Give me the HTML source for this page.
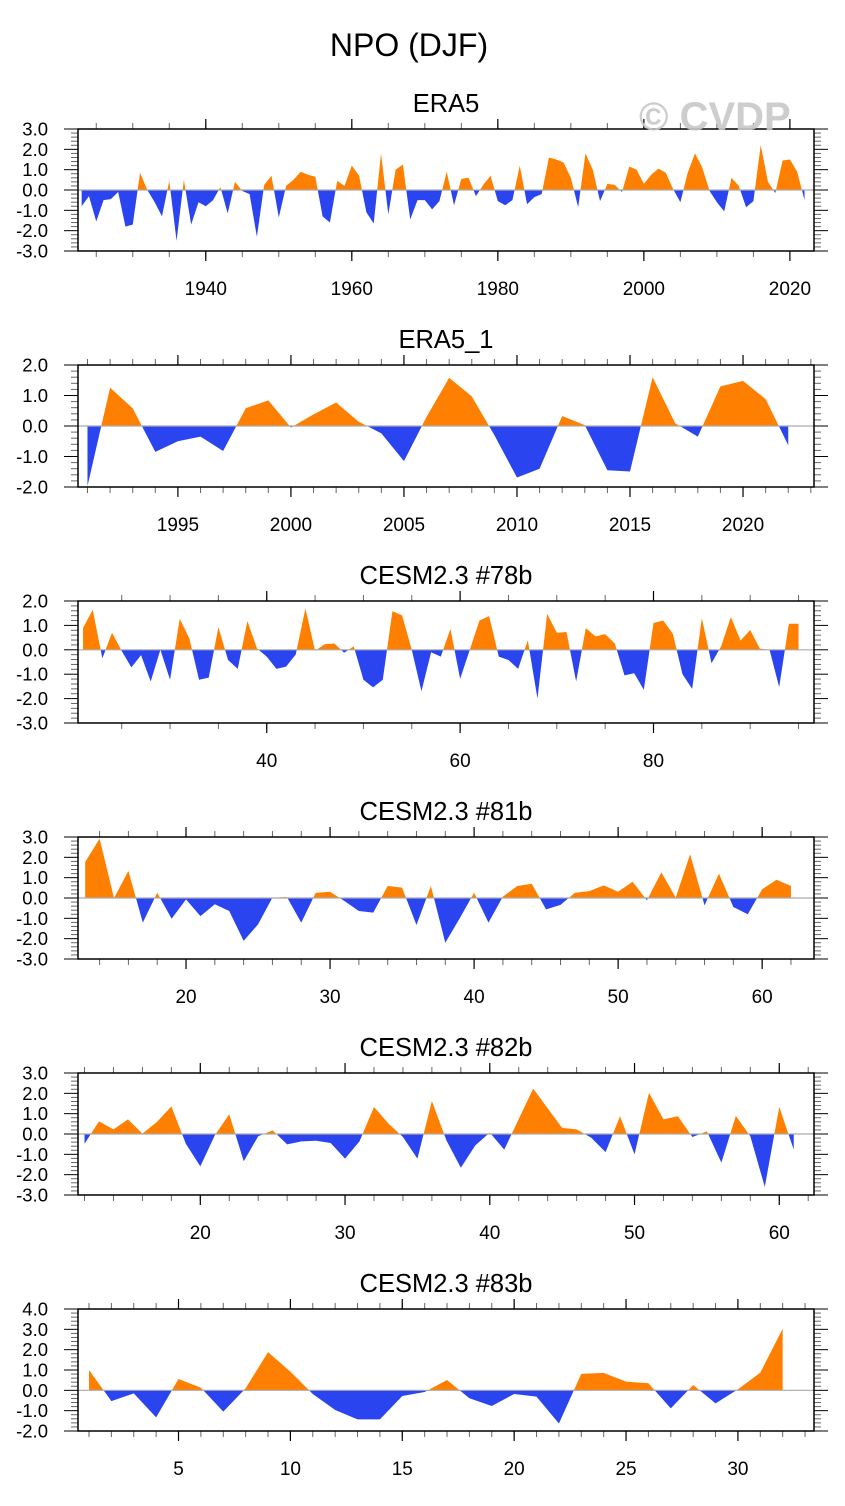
<!DOCTYPE html>
<html><head><meta charset="utf-8"><title>NPO (DJF)</title>
<style>
html,body{margin:0;padding:0;background:#fff;}
svg{display:block;font-family:"Liberation Sans",Arial,sans-serif;}
</style></head>
<body>
<svg id="chart" xmlns="http://www.w3.org/2000/svg" width="845" height="1506" viewBox="0 0 845 1506">
<rect x="0" y="0" width="845" height="1506" fill="#fff"/>
<text x="409" y="56" font-size="32" text-anchor="middle" fill="#000">NPO (DJF)</text>
</svg>
<script>
// ---- data ----
const era5Start = 1923;
const era5Values = [-0.8,-0.3,-1.55,-0.5,-0.45,-0.1,-1.8,-1.7,0.85,0,-0.6,-1.3,0.45,-2.5,0.5,-1.7,-0.6,-0.8,-0.5,0.15,-1.15,0.4,-0.05,-0.2,-2.3,0.25,0.7,-1.35,0.2,0.5,0.9,0.75,0.65,-1.3,-1.6,0.45,0.2,1.2,0.7,-1.1,-1.65,1.8,-1.2,1.0,1.25,-1.45,-0.5,-0.5,-0.95,-0.55,0.9,-0.75,0.55,0.6,-0.3,0.25,0.7,-0.55,-0.75,-0.5,1.2,-0.7,-0.35,-0.2,1.6,1.5,1.35,0.6,-0.85,1.8,1.0,-0.55,0.3,0.25,-0.1,1.15,1.0,0.3,0.75,1.05,0.85,0.05,-0.6,0.85,1.8,1.1,-0.05,-0.6,-1.05,0.6,0.2,-0.85,-0.55,2.2,0.4,-0.15,1.45,1.5,0.9,-0.5];
const era51Start = 1991;
const era51Values = [-1.97,1.26,0.58,-0.85,-0.5,-0.35,-0.82,0.58,0.84,-0.05,0.38,0.77,0.14,-0.24,-1.15,0.3,1.58,0.97,-0.3,-1.69,-1.4,0.33,0.03,-1.45,-1.49,1.6,0.09,-0.35,1.3,1.48,0.88,-0.63];
const m78Start = 21;
const m78Values = [0.89,1.64,-0.35,0.7,-0.05,-0.72,-0.22,-1.3,0,-1.23,1.27,0.46,-1.23,-1.14,0.93,-0.42,-0.78,1.18,0.05,-0.28,-0.78,-0.69,-0.19,1.7,-0.04,0.23,0.26,-0.12,0.14,-1.23,-1.54,-1.23,1.58,1.41,0,-1.7,-0.1,-0.28,0.86,-1.19,0,1.2,1.38,-0.28,-0.42,-0.78,0.39,-2.0,1.47,0.7,0.73,-1.3,0.89,0.55,0.64,0.26,-1.05,-0.96,-1.64,1.1,1.2,0.66,-1.0,-1.6,1.3,-0.55,0.15,1.34,0.38,0.81,0.05,0,-1.53,1.07,1.07];
const m81Start = 13;
const m81Values = [1.77,2.92,0,1.33,-1.21,0.26,-1.02,-0.07,-0.89,-0.31,-0.64,-2.11,-1.3,0.02,0.05,-1.21,0.25,0.31,-0.15,-0.64,-0.72,0.59,0.51,-1.33,0.59,-2.2,-1.0,0.26,-1.21,0.07,0.59,0.7,-0.56,-0.34,0.26,0.34,0.62,0.31,0.8,-0.11,1.26,0.02,2.15,-0.36,1.2,-0.44,-0.8,0.43,0.9,0.59];
const m82Start = 12;
const m82Values = [-0.48,0.62,0.23,0.72,0.02,0.59,1.36,-0.48,-1.59,-0.07,0.97,-1.34,-0.11,0.18,-0.51,-0.36,-0.33,-0.44,-1.21,-0.36,1.33,0.51,-0.15,-1.21,1.62,-0.31,-1.66,-0.56,0.07,-0.77,0.74,2.23,1.26,0.3,0.23,-0.18,-0.89,0.87,-1.0,2.03,0.72,0.87,-0.15,0.13,-1.41,0.89,-0.11,-2.6,1.33,-0.77];
const m83Start = 1;
const m83Values = [1.0,-0.53,-0.15,-1.33,0.56,0.13,-1.05,0.1,1.88,0.92,-0.18,-0.97,-1.43,-1.43,-0.28,-0.08,0.51,-0.39,-0.77,-0.18,-0.31,-1.63,0.81,0.86,0.43,0.35,-0.89,0.26,-0.64,0.05,0.87,3.03];
const panelTitles = ["ERA5","ERA5_1","CESM2.3 #78b","CESM2.3 #81b","CESM2.3 #82b","CESM2.3 #83b"];
const xMajorP1 = [1940,1960,1980,2000,2020];
const xMajorP2 = [1995,2000,2005,2010,2015,2020];
const xMajorP3 = [40,60,80];
const xMajorP4 = [20,30,40,50,60];
const xMajorP5 = [20,30,40,50,60];
const xMajorP6 = [5,10,15,20,25,30];

const NS = "http://www.w3.org/2000/svg";
const svg = document.getElementById('chart');
const BL = 78, BR = 814, BH = 122;
function mk(tag, attrs, parent){
  const e = document.createElementNS(NS, tag);
  for (const k in attrs) e.setAttribute(k, attrs[k]);
  (parent||svg).appendChild(e);
  return e;
}
function fmt(v){ return (Math.abs(v)<1e-9?0:v).toFixed(1); }

const panels = [
  {key:'era5', top:129, xmin:1922.5, xmax:2023.3, ymin:-3, ymax:3, start:era5Start, vals:era5Values, major:xMajorP1, minor:5},
  {key:'era5-1', top:365, xmin:1990.58, xmax:2023.14, ymin:-2, ymax:2, start:era51Start, vals:era51Values, major:xMajorP2, minor:1},
  {key:'cesm-78b', top:601, xmin:20.48, xmax:96.6, ymin:-3, ymax:2, start:m78Start, vals:m78Values, major:xMajorP3, minor:5},
  {key:'cesm-81b', top:837, xmin:12.5, xmax:63.6, ymin:-3, ymax:3, start:m81Start, vals:m81Values, major:xMajorP4, minor:2},
  {key:'cesm-82b', top:1073, xmin:11.55, xmax:62.4, ymin:-3, ymax:3, start:m82Start, vals:m82Values, major:xMajorP5, minor:2},
  {key:'cesm-83b', top:1309, xmin:0.508, xmax:33.4, ymin:-2, ymax:4, start:m83Start, vals:m83Values, major:xMajorP6, minor:1}
];

panels.forEach((p, pi) => {
  const g = mk('g', {});
  
  
  const top = p.top, bot = top + BH;
  const xs = v => BL + (v - p.xmin) / (p.xmax - p.xmin) * (BR - BL);
  const ys = v => bot - (v - p.ymin) / (p.ymax - p.ymin) * BH;
  const y0 = ys(0);

  const t = mk('text', {x:446, y:top-17, 'font-size':25.5, 'text-anchor':'middle', fill:'#000'}, g);
  t.textContent = panelTitles[pi];
  
  

  const defs = mk('defs', {}, g);
  const cpA = mk('clipPath', {id:'ca'+pi}, defs);
  mk('rect', {x:BL, y:top, width:BR-BL, height:y0-top}, cpA);
  const cpB = mk('clipPath', {id:'cb'+pi}, defs);
  mk('rect', {x:BL, y:y0, width:BR-BL, height:bot-y0}, cpB);

  let pts = [];
  p.vals.forEach((v, i) => { pts.push(xs(p.start + i).toFixed(2) + ',' + ys(v).toFixed(2)); });
  const x0 = xs(p.start), xn = xs(p.start + p.vals.length - 1);
  const poly = x0.toFixed(2)+','+y0.toFixed(2)+' '+pts.join(' ')+' '+xn.toFixed(2)+','+y0.toFixed(2);
  const pa = mk('polygon', {points:poly, fill:'#ff8000', 'clip-path':'url(#ca'+pi+')'}, g);
  
  
  const pb = mk('polygon', {points:poly, fill:'#2a45ef', 'clip-path':'url(#cb'+pi+')'}, g);
  
  

  const zl = mk('line', {x1:BL, x2:BR, y1:y0, y2:y0, stroke:'#aaa', 'stroke-width':1.2}, g);
  
  

  const nMin = Math.round((p.ymax - p.ymin) / 0.2);
  for (let k = 0; k <= nMin; k++) {
    const v = p.ymin + k * 0.2;
    const y = ys(v);
    const isMaj = Math.abs(v - Math.round(v)) < 1e-6;
    const len = isMaj ? 14 : 7;
    mk('line', {x1:BL-len, x2:BL, y1:y, y2:y, stroke:isMaj?'#000':'#666', 'stroke-width':1}, g);
    mk('line', {x1:BR, x2:BR+len, y1:y, y2:y, stroke:isMaj?'#000':'#666', 'stroke-width':1}, g);
    if (isMaj) {
      const lb = mk('text', {x:48, y:y+6.5, 'font-size':18.5, 'text-anchor':'end', fill:'#000'}, g);
      lb.textContent = fmt(Math.round(v));
      
      
    }
  }
  for (let v = Math.ceil(p.xmin / p.minor) * p.minor; v <= p.xmax; v += p.minor) {
    const x = xs(v);
    mk('line', {x1:x, x2:x, y1:top-6, y2:top, stroke:'#666', 'stroke-width':1}, g);
    mk('line', {x1:x, x2:x, y1:bot, y2:bot+6, stroke:'#666', 'stroke-width':1}, g);
  }
  p.major.forEach(v => {
    const x = xs(v);
    mk('line', {x1:x, x2:x, y1:top-10, y2:top, stroke:'#000', 'stroke-width':1.2}, g);
    mk('line', {x1:x, x2:x, y1:bot, y2:bot+10, stroke:'#000', 'stroke-width':1.2}, g);
    const lb = mk('text', {x:x, y:bot+44, 'font-size':19, 'text-anchor':'middle', fill:'#000'}, g);
    lb.textContent = String(v);
    
    
  });

  const bx = mk('rect', {x:BL, y:top, width:BR-BL, height:BH, fill:'none', stroke:'#000', 'stroke-width':1.5}, g);
  
  

  if (pi === 0) {
    const wm = mk('text', {x:639, y:130, 'font-size':40, 'font-weight':'bold', fill:'#c8c8c8', 'fill-opacity':0.9}, g);
    wm.textContent = '\u00A9 CVDP';
    
    
  }
});
</script>
</body></html>
